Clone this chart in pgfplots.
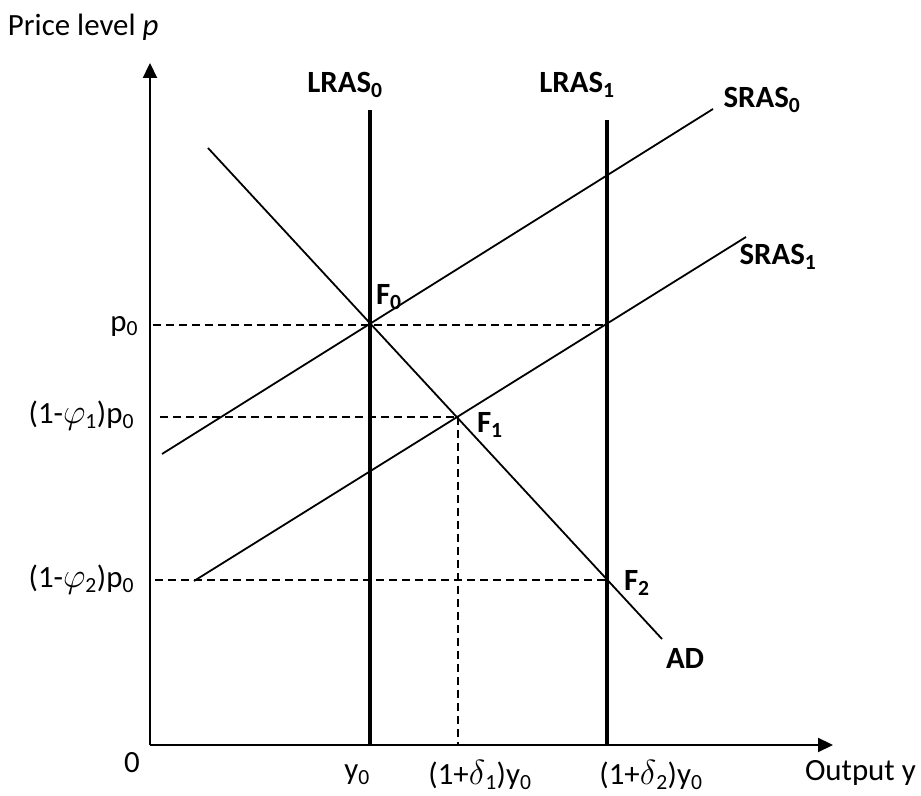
\RequirePackage{fix-cm}
\documentclass[border=0pt]{standalone}
\usepackage{fontspec}
\setmainfont{Carlito}
\usepackage{pgfplots}
\pgfplotsset{compat=1.18}
\usetikzlibrary{arrows.meta}
\tikzset{lbl/.style={font=\fontsize{31}{36}\selectfont, inner sep=0pt, outer sep=0pt}}
\newcommand{\gk}[1]{{\fontsize{35}{40}\selectfont$#1$}}
\begin{document}
\fontsize{31}{36}\selectfont
\begin{tikzpicture}
\begin{axis}[
  x=1bp, y=1bp,
  xmin=150, xmax=833, ymin=51, ymax=733,
  axis lines=left,
  axis line style={line width=2.2bp, -{Triangle[length=15bp,width=14bp]}},
  xtick=\empty, ytick=\empty,
  clip=false,
]
\draw[draw=none] (axis cs:0,0) rectangle (axis cs:921,796);
% dashed guides
\addplot[black, line width=1.7bp, dash pattern=on 8bp off 5bp] coordinates {(153,471) (607,471)};
\addplot[black, line width=1.7bp, dash pattern=on 8bp off 5bp] coordinates {(160,379) (458,379)};
\addplot[black, line width=1.7bp, dash pattern=on 8bp off 5bp] coordinates {(458,379) (458,51)};
\addplot[black, line width=1.7bp, dash pattern=on 8bp off 5bp] coordinates {(155,216) (607,216)};
% curves
\addplot[black, line width=1.8bp] coordinates {(162,342) (713,687)};
\addplot[black, line width=1.8bp] coordinates {(194,215) (746,559)};
\addplot[black, line width=1.8bp] coordinates {(208,648) (662,157)};
\addplot[black, line width=4.5bp] coordinates {(370,686) (370,51)};
\addplot[black, line width=4.5bp] coordinates {(607,676) (607,51)};
% labels
\node[lbl, anchor=west] at (axis cs:8,769) {Price level \textit{p}};
\node[lbl, anchor=east] at (axis cs:138,470) {p\textsubscript{0}};
\node[lbl, anchor=east] at (axis cs:134,380) {(1-\gk{\varphi}\textsubscript{1})p\textsubscript{0}};
\node[lbl, anchor=east] at (axis cs:134,216) {(1-\gk{\varphi}\textsubscript{2})p\textsubscript{0}};
\node[lbl] at (axis cs:132,33) {0};
\node[lbl] at (axis cs:357,21) {y\textsubscript{0}};
\node[lbl] at (axis cs:480,21) {(1+\gk{\delta}\textsubscript{1})y\textsubscript{0}};
\node[lbl] at (axis cs:651,21) {(1+\gk{\delta}\textsubscript{2})y\textsubscript{0}};
\node[lbl, anchor=west] at (axis cs:805,23) {Output y};
\node[lbl] at (axis cs:345,711) {\bfseries LRAS\textsubscript{0}};
\node[lbl] at (axis cs:577,711) {\bfseries LRAS\textsubscript{1}};
\node[lbl] at (axis cs:762,696) {\bfseries SRAS\textsubscript{0}};
\node[lbl] at (axis cs:778,539) {\bfseries SRAS\textsubscript{1}};
\node[lbl, anchor=west] at (axis cs:376,499) {\bfseries F\textsubscript{0}};
\node[lbl, anchor=west] at (axis cs:477,371) {\bfseries F\textsubscript{1}};
\node[lbl, anchor=west] at (axis cs:624,213) {\bfseries F\textsubscript{2}};
\node[lbl, anchor=west] at (axis cs:666,138) {\bfseries AD};
\end{axis}
\end{tikzpicture}
\end{document}
